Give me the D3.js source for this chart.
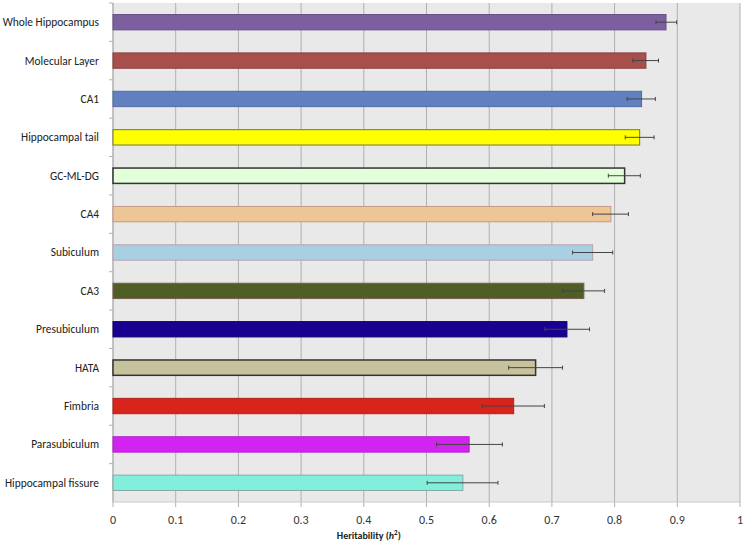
<!DOCTYPE html>
<html>
<head>
<meta charset="utf-8">
<script src="https://cdn.jsdelivr.net/npm/d3@7"></script>
<style>
  body { margin: 0; background: #fff; }
  svg { display: block; font-family: Calibri, Carlito, Lato, "Open Sans", sans-serif; }
</style>
</head>
<body>
<svg id="chart" width="743" height="543"></svg>
<script>
var regions = ["Whole Hippocampus", "Molecular Layer", "CA1", "Hippocampal tail", "GC-ML-DG", "CA4",
  "Subiculum", "CA3", "Presubiculum", "HATA", "Fimbria", "Parasubiculum", "Hippocampal fissure"];
var heritability = [0.882, 0.850, 0.843, 0.840, 0.816, 0.794, 0.765, 0.751, 0.724, 0.674, 0.639, 0.568, 0.558];
var errLow  = [0.866, 0.829, 0.820, 0.817, 0.790, 0.765, 0.733, 0.717, 0.689, 0.631, 0.589, 0.516, 0.501];
var errHigh = [0.899, 0.870, 0.865, 0.863, 0.841, 0.822, 0.797, 0.784, 0.760, 0.717, 0.688, 0.621, 0.614];
var fills = ["#7b5f9e", "#a64f4b", "#6080c0", "#ffff00", "#e2ffd9", "#eec595", "#a9d0e2", "#4f5e24",
  "#1a0091", "#c6c29c", "#d8241a", "#d323f0", "#82efdc"];
var strokes = ["#6a5088", "#8c4040", "#4f6aa4", "#777733", "#333333", "#c49a8a", "#b9a0b0", "#7a6050",
  "#1a0070", "#333333", "#b02018", "#b020c8", "#88aaa0"];
var xTicks = [0, 0.1, 0.2, 0.3, 0.4, 0.5, 0.6, 0.7, 0.8, 0.9, 1];

var margin = {top: 3, right: 3, bottom: 41, left: 113},
    width = 743 - margin.left - margin.right,
    height = 543 - margin.top - margin.bottom;

var svg = d3.select("#chart")
  .append("g")
    .attr("transform", "translate(" + margin.left + "," + margin.top + ")");

var x = d3.scaleLinear().domain([0, 1]).range([0, width]);
var y = d3.scaleBand().domain(regions).range([0, height]).paddingInner(0.6).paddingOuter(0.3);
var band = d3.scaleBand().domain(regions).range([0, height]);

// plot background
svg.append("rect")
  .attr("width", width)
  .attr("height", height)
  .attr("fill", "#e9e9e9");

// vertical gridlines (extend a bit below as tick marks)
svg.selectAll(".grid")
  .data(xTicks)
  .enter()
  .append("line")
    .attr("x1", d => x(d)).attr("x2", d => x(d))
    .attr("y1", 0).attr("y2", height + 5)
    .attr("stroke", "#b0b0b0")
    .attr("stroke-width", 1);

// bottom axis line
svg.append("line")
  .attr("x1", 0).attr("x2", width)
  .attr("y1", height).attr("y2", height)
  .attr("stroke", "#c8c8c8");

// left axis line + category ticks
svg.append("line")
  .attr("x1", 0).attr("x2", 0)
  .attr("y1", 0).attr("y2", height)
  .attr("stroke", "#b0b0b0");
svg.selectAll(".ytick")
  .data(regions)
  .enter()
  .append("line")
    .attr("x1", -4).attr("x2", 0)
    .attr("y1", d => band(d)).attr("y2", d => band(d))
    .attr("stroke", "#b0b0b0");

// x tick labels
svg.selectAll(".xlab")
  .data(xTicks)
  .enter()
  .append("text")
    .attr("x", d => x(d))
    .attr("y", height + 22)
    .attr("text-anchor", "middle")
    .attr("font-size", "12px")
    .attr("fill", "#333")
    .text(d => d3.format("")(d));

// category labels
svg.selectAll(".ylab")
  .data(regions)
  .enter()
  .append("text")
    .attr("x", -14)
    .attr("y", d => y(d) + y.bandwidth() / 2)
    .attr("dy", "0.35em")
    .attr("text-anchor", "end")
    .attr("font-size", "11.4px")
    .attr("fill", "#222")
    .text(d => d);

// bars
svg.selectAll(".bar")
  .data(regions)
  .enter()
  .append("rect")
    .attr("x", 0)
    .attr("y", d => y(d))
    .attr("width", (d, i) => x(heritability[i]))
    .attr("height", y.bandwidth())
    .attr("fill", (d, i) => fills[i])
    .attr("stroke", (d, i) => strokes[i])
    .attr("stroke-width", (d, i) => (i == 4 || i == 9) ? 1.5 : 1);

// error bars
var eb = svg.selectAll(".err")
  .data(regions)
  .enter()
  .append("g")
    .attr("transform", d => "translate(0," + (y(d) + y.bandwidth() / 2) + ")");
eb.append("line")
  .attr("x1", (d, i) => x(errLow[i])).attr("x2", (d, i) => x(errHigh[i]))
  .attr("y1", 0).attr("y2", 0)
  .attr("stroke", "#444").attr("stroke-width", 1);
eb.append("line")
  .attr("x1", (d, i) => x(errLow[i])).attr("x2", (d, i) => x(errLow[i]))
  .attr("y1", -2).attr("y2", 2)
  .attr("stroke", "#444");
eb.append("line")
  .attr("x1", (d, i) => x(errHigh[i])).attr("x2", (d, i) => x(errHigh[i]))
  .attr("y1", -2).attr("y2", 2)
  .attr("stroke", "#444");

// axis title
var title = svg.append("text")
  .attr("x", width * 0.408)
  .attr("y", height + 37)
  .attr("text-anchor", "middle")
  .attr("font-size", "10px")
  .attr("font-weight", "bold")
  .attr("fill", "#222");
title.append("tspan").text("Heritability (");
title.append("tspan").attr("font-style", "italic").text("h");
title.append("tspan").attr("font-size", "7px").attr("dy", "-4").text("2");
title.append("tspan").attr("dy", "4").text(")");
</script>
</body>
</html>
